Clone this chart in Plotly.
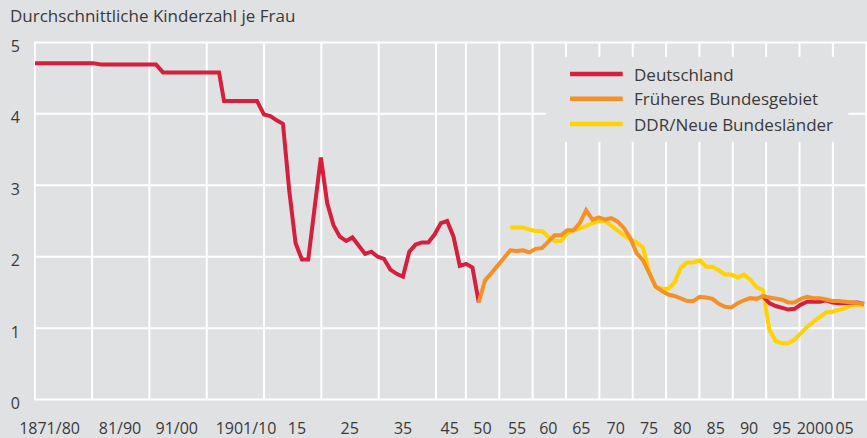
import numpy as np
import plotly.graph_objects as go

# ---------------- data ----------------
PERIOD_LABELS = ["1871/80", "81/90", "91/00", "1901/10"]
PERIOD_START = [1871, 1881, 1891, 1901]
PERIOD_END = [1880, 1890, 1900, 1910]
PERIOD_TFR = [4.71, 4.69, 4.58, 4.18]

DE_YEARS_1 = list(range(1911, 1946))
DE_TFR_1 = [3.99, 3.97, 3.91, 3.86, 2.92, 2.19, 1.96, 1.96, 2.68, 3.39,
            2.75, 2.44, 2.28, 2.22, 2.27, 2.15, 2.04, 2.07, 2.00, 1.97,
            1.82, 1.76, 1.72, 2.07, 2.17, 2.20, 2.20, 2.31, 2.47, 2.50,
            2.28, 1.87, 1.90, 1.85, 1.36]

DE_YEARS_2 = list(range(1990, 2007))
DE_TFR_2 = [1.45, 1.35, 1.31, 1.29, 1.26, 1.27, 1.33, 1.37, 1.37, 1.37,
            1.39, 1.36, 1.35, 1.35, 1.36, 1.36, 1.34]

WEST_YEARS = list(range(1945, 2007))
WEST_TFR = [1.36, 1.67, 1.77, 1.87, 1.97,
            2.09, 2.08, 2.09, 2.06, 2.11, 2.12, 2.21, 2.30, 2.30, 2.37,
            2.37, 2.47, 2.65, 2.52, 2.55, 2.52, 2.54, 2.49, 2.40, 2.26,
            2.05, 1.95, 1.77, 1.58, 1.52, 1.47, 1.45, 1.41, 1.38, 1.38,
            1.44, 1.43, 1.41, 1.34, 1.30, 1.29, 1.35, 1.39, 1.42, 1.41,
            1.45, 1.43, 1.41, 1.40, 1.36, 1.36, 1.41, 1.44, 1.42, 1.42,
            1.40, 1.38, 1.38, 1.37, 1.37, 1.36, 1.34]

EAST_YEARS = list(range(1950, 2007))
EAST_TFR = [2.41, 2.41, 2.41, 2.38, 2.36, 2.36, 2.28, 2.22, 2.22, 2.33,
            2.36, 2.40, 2.43, 2.47, 2.50, 2.50, 2.43, 2.37, 2.30, 2.24,
            2.20, 2.13, 1.78, 1.58, 1.55, 1.55, 1.64, 1.85, 1.92, 1.92,
            1.95, 1.86, 1.86, 1.81, 1.75, 1.75, 1.71, 1.75, 1.68, 1.57,
            1.53, 0.98, 0.82, 0.79, 0.79, 0.84, 0.93, 1.02, 1.09, 1.16,
            1.22, 1.23, 1.25, 1.28, 1.32, 1.32, 1.32]

SERIES_NAMES = ["Deutschland", "Früheres Bundesgebiet", "DDR/Neue Bundesländer"]
TICK_LABELS = PERIOD_LABELS + ["15", "25", "35", "45", "50", "55", "60", "65",
                               "70", "75", "80", "85", "90", "95", "2000", "05"]
Y_TICKS = [0, 1, 2, 3, 4, 5]

# ---------------- scale (compressed, broken axis before 1911) ----------------
X0, X1 = 1874.58, 2006.47
SCALE_YEARS = [1871, 1880, 1881, 1890, 1891, 1900, 1901, 1910, 1911]
SCALE_POS = [1874.74, 1883.93, 1885.19, 1893.90, 1895.01, 1903.88, 1904.67, 1909.89, 1911.0]


def axis_pos(years):
    years = np.asarray(years, dtype=float)
    return np.where(years < 1911, np.interp(years, SCALE_YEARS, SCALE_POS), years)


TICK_POS = [1877.04, 1888.20, 1897.18, 1908.15, 1916.22, 1924.57, 1933.01, 1940.40,
            1945.59, 1951.06, 1956.01, 1961.24, 1966.68, 1971.96, 1977.23, 1982.52,
            1987.79, 1992.97, 1998.24, 2002.91]
GRID_X = list(np.linspace(X0 + 0.12, X0 + 7 * 9.093, 8)) + list(X1 - 0.12 - 5.282 * np.arange(13))

COLORS = ["#d41f3d", "#f39128", "#ffd200"]
BG = "#e0e1e3"
TXT = "#3a3a3a"
FONT = "Open Sans"
FS = 17
FS_TICK = 16
CLEAR = "rgba(0,0,0,0)"

# red series: period steps + yearly values, gap, yearly values after 1990
red_years, red_vals = [], []
for s, e, v in zip(PERIOD_START, PERIOD_END, PERIOD_TFR):
    red_years += [s, e]
    red_vals += [v, v]
red_years += DE_YEARS_1
red_vals += DE_TFR_1
red_x = list(axis_pos(red_years)) + [None] + list(axis_pos(DE_YEARS_2))
red_y = red_vals + [None] + DE_TFR_2

fig = go.Figure()
fig.add_trace(go.Scatter(x=axis_pos(EAST_YEARS), y=EAST_TFR, mode="lines",
                         name=SERIES_NAMES[2], line=dict(color=COLORS[2], width=4)))
fig.add_trace(go.Scatter(x=red_x, y=red_y, mode="lines", name=SERIES_NAMES[0],
                         connectgaps=False, line=dict(color=COLORS[0], width=4)))
fig.add_trace(go.Scatter(x=axis_pos(WEST_YEARS), y=WEST_TFR, mode="lines",
                         name=SERIES_NAMES[1], line=dict(color=COLORS[1], width=4)))

shapes = []
# grid lines (white, behind the data)
for gx in GRID_X:
    shapes.append(dict(type="line", xref="x", yref="y", layer="below",
                       x0=gx, x1=gx, y0=min(Y_TICKS), y1=max(Y_TICKS),
                       line=dict(color="white", width=2)))
for gy in Y_TICKS:
    shapes.append(dict(type="line", xref="paper", yref="y", layer="below",
                       x0=0, x1=1, y0=gy, y1=gy, line=dict(color="white", width=2)))

# manual legend (box hides grid, long line samples)
LEG_BOX = dict(x0=0.6146, x1=0.9776, y0=0.7203, y1=0.9564)
LEG_LINE_X = (0.6435, 0.7067)
LEG_TEXT_X = 0.7180
LEG_Y = [0.9083, 0.8397, 0.7694]
shapes.append(dict(type="rect", xref="paper", yref="paper", layer="above",
                   fillcolor=BG, line=dict(width=0), **LEG_BOX))
annotations = []
for name, col, ly in zip(SERIES_NAMES, COLORS, LEG_Y):
    shapes.append(dict(type="line", xref="paper", yref="paper", layer="above",
                       x0=LEG_LINE_X[0], x1=LEG_LINE_X[1], y0=ly, y1=ly,
                       line=dict(color=col, width=4.5)))
    annotations.append(dict(xref="paper", yref="paper", x=LEG_TEXT_X, y=ly,
                            xanchor="left", yanchor="middle", showarrow=False,
                            text=name, font=dict(family=FONT, size=FS, color=TXT)))

fig.update_layout(
    width=867, height=438,
    margin=dict(l=34, r=0, t=41, b=37, autoexpand=False),
    paper_bgcolor=BG, plot_bgcolor=BG,
    showlegend=False,
    font=dict(family=FONT, size=FS, color=TXT),
    title=dict(text="Durchschnittliche Kinderzahl je Frau", x=10 / 867, xref="container",
               xanchor="left", y=1 - 16 / 438, yref="container", yanchor="middle",
               font=dict(family=FONT, size=FS, color=TXT)),
    shapes=shapes, annotations=annotations,
)
fig.update_xaxes(range=[X0, X1], tickmode="array", tickvals=TICK_POS, ticktext=TICK_LABELS,
                 tickangle=0, showgrid=False, zeroline=False, showline=False,
                 ticks="outside", ticklen=13, tickcolor=CLEAR, automargin=False,
                 tickfont=dict(family=FONT, size=FS_TICK, color=TXT))
fig.update_yaxes(range=[-0.02, 5.02], tickmode="array", tickvals=Y_TICKS,
                 showgrid=False, zeroline=False, automargin=False, showline=False,
                 ticks="outside", ticklen=10, tickcolor=CLEAR, ticklabelshift=4,
                 tickfont=dict(family=FONT, size=FS_TICK, color=TXT))

fig.write_html("out.html", config={"displayModeBar": False},
               post_script="document.body.style.margin='0px';")
